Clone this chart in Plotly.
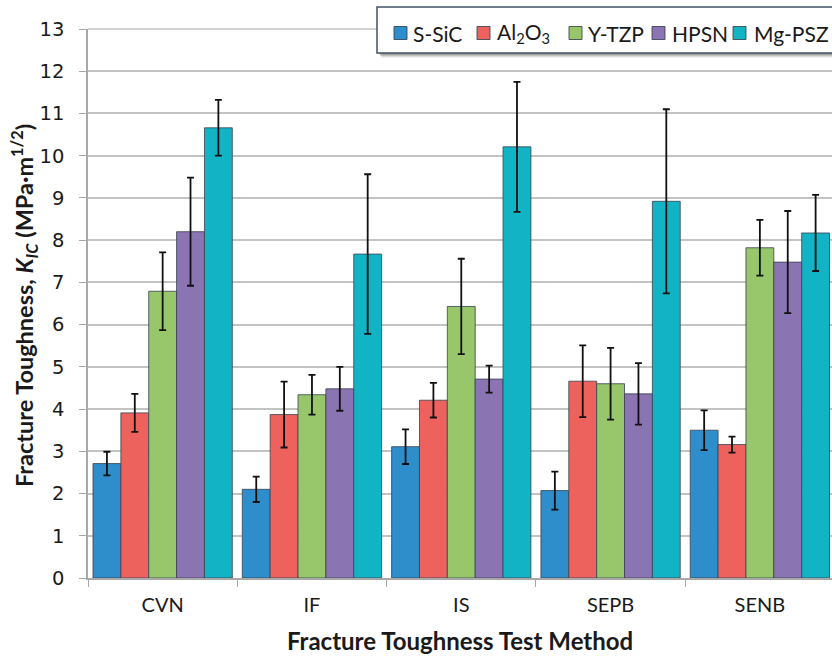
import plotly.graph_objects as go

# Test methods on the category axis
categories = ["CVN", "IF", "IS", "SEPB", "SENB"]

# Materials (series) and their fill colours
materials = ["S-SiC", "Al<sub>2</sub>O<sub>3</sub>", "Y-TZP", "HPSN", "Mg-PSZ"]
colors = ["#2d8ecb", "#ee625d", "#97c66b", "#8b74b2", "#13b3c6"]

# Mean fracture toughness, K_IC (MPa·m^1/2), and scatter (±) per test method
s_sic = [2.71, 2.10, 3.11, 2.07, 3.50]
s_sic_err = [0.28, 0.30, 0.41, 0.45, 0.47]
al2o3 = [3.91, 3.87, 4.21, 4.66, 3.16]
al2o3_err = [0.45, 0.78, 0.41, 0.85, 0.19]
y_tzp = [6.79, 4.34, 6.43, 4.60, 7.82]
y_tzp_err = [0.92, 0.47, 1.13, 0.85, 0.66]
hpsn = [8.20, 4.48, 4.71, 4.36, 7.48]
hpsn_err = [1.28, 0.52, 0.32, 0.73, 1.21]
mg_psz = [10.66, 7.67, 10.21, 8.92, 8.17]
mg_psz_err = [0.66, 1.89, 1.54, 2.18, 0.90]

values = [s_sic, al2o3, y_tzp, hpsn, mg_psz]
errors = [s_sic_err, al2o3_err, y_tzp_err, hpsn_err, mg_psz_err]

y_ticks = list(range(0, 14))

W, H = 832, 657
M_L, M_R, M_T, M_B = 88, 0, 29, 79
PW, PH = W - M_L - M_R, H - M_T - M_B


def px_x(x):
    return (x - M_L) / PW


def px_y(y):
    return (H - M_B - y) / PH


fig = go.Figure()
for name, vals, errs, col in zip(materials, values, errors, colors):
    fig.add_trace(go.Bar(
        x=categories, y=vals, name=name,
        marker=dict(color=col, line=dict(color="rgba(55,65,80,0.8)", width=1)),
        error_y=dict(type="data", array=errs, visible=True,
                     color="#111111", thickness=1.8, width=3.5),
        showlegend=False,
    ))

grid_col = "#c3c3c3"
axis_col = "#a8a8a8"

fig.update_layout(
    width=W, height=H,
    margin=dict(l=M_L, r=M_R, t=M_T, b=M_B, autoexpand=False),
    paper_bgcolor="white", plot_bgcolor="white",
    barmode="group", bargap=0.067, bargroupgap=0.0,
    xaxis=dict(
        type="category", range=[-0.5, 4.483],
        showline=True, linecolor=axis_col, linewidth=1.5,
        ticks="outside", tickson="boundaries", ticklen=7,
        tickcolor=axis_col, tickwidth=1.2,
        ticklabelstandoff=8,
        tickfont=dict(family="Lato", size=20, color="#1a1a1a"),
        showgrid=False,
    ),
    yaxis=dict(
        range=[0, 13], tickvals=y_ticks,
        showline=True, linecolor=axis_col, linewidth=1.5,
        ticks="outside", ticklen=7, tickcolor=axis_col, tickwidth=1.2,
        ticklabelstandoff=11,
        tickfont=dict(family="DejaVu Sans", size=19.5, color="#1a1a1a"),
        showgrid=True, gridcolor=grid_col, gridwidth=1.5,
        zeroline=False,
    ),
)

# top border of the plotting area
fig.add_shape(type="line", xref="paper", yref="paper", x0=0, x1=1, y0=1, y1=1,
              line=dict(color=grid_col, width=1.5), layer="below")

# axis titles
fig.add_annotation(
    xref="paper", yref="paper", x=px_x(460), y=px_y(640),
    text="<b>Fracture Toughness Test Method</b>", showarrow=False,
    font=dict(family="Lato", size=24, color="#1a1a1a"),
    xanchor="center", yanchor="middle",
)
fig.add_annotation(
    xref="paper", yref="paper", x=px_x(24), y=px_y(306),
    text="<b>Fracture Toughness, <i>K<sub>IC</sub></i> (MPa·m<sup>1/2</sup>)</b>",
    showarrow=False, textangle=-90,
    font=dict(family="Lato", size=23.5, color="#1a1a1a"),
    xanchor="center", yanchor="middle",
)

# legend box with a soft drop shadow
box_l, box_t, box_b = 377, 7, 53
for off, alpha in [(5, 0.06), (4, 0.09), (3, 0.12), (2, 0.15)]:
    fig.add_shape(type="rect", xref="paper", yref="paper",
                  x0=px_x(box_l + off), x1=px_x(W + 20),
                  y0=px_y(box_b + off), y1=px_y(box_t + off),
                  line=dict(width=0), fillcolor=f"rgba(0,0,0,{alpha})", layer="above")
fig.add_shape(type="rect", xref="paper", yref="paper",
              x0=px_x(box_l), x1=px_x(W + 20), y0=px_y(box_b), y1=px_y(box_t),
              line=dict(color="#3f5266", width=1.5), fillcolor="white", layer="above")

swatch_x = [394, 477, 569, 652, 733]
text_x = [411, 495, 586, 670, 752]
row_y = 33
for name, col, sx, tx in zip(materials, colors, swatch_x, text_x):
    fig.add_shape(type="rect", xref="paper", yref="paper",
                  x0=px_x(sx), x1=px_x(sx + 13), y0=px_y(row_y + 6.5), y1=px_y(row_y - 6.5),
                  line=dict(color="rgba(55,65,80,0.85)", width=1), fillcolor=col, layer="above")
    fig.add_annotation(xref="paper", yref="paper", x=px_x(tx), y=px_y(row_y),
                       text=name, showarrow=False, xanchor="left", yanchor="middle",
                       font=dict(family="Lato", size=21, color="#1a1a1a"))

fig.write_html("out.html")
